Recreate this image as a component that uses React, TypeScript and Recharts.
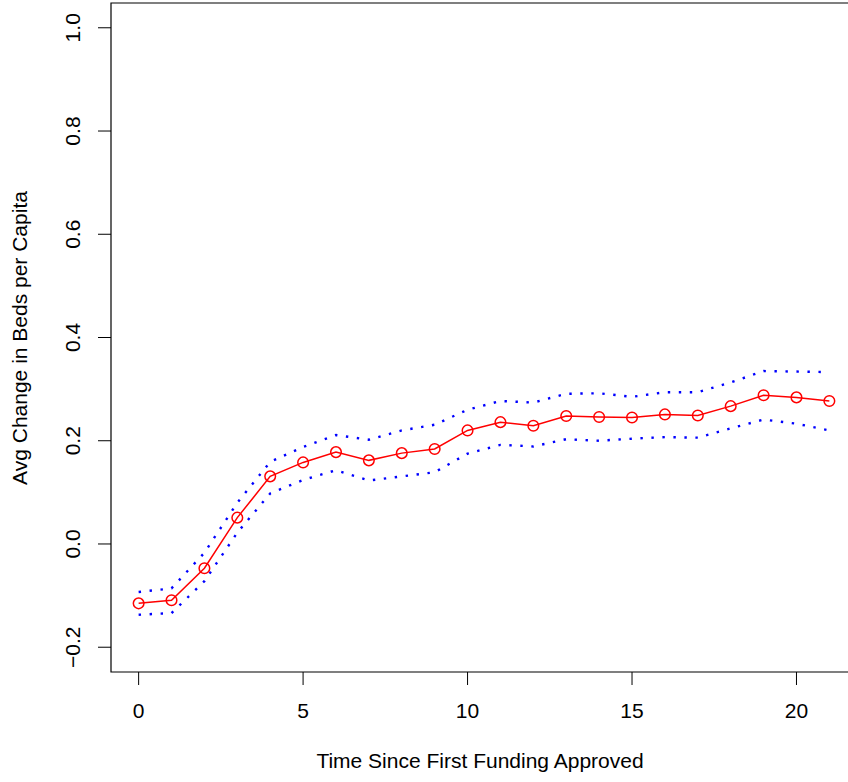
import { ComposedChart, Line, XAxis, YAxis, ReferenceArea } from "recharts";

// time since first funding approved (years)
const TIMES = [0, 1, 2, 3, 4, 5, 6, 7, 8, 9, 10, 11, 12, 13, 14, 15, 16, 17, 18, 19, 20, 21];

// average change in beds per capita
const AVG = [
  -0.115, -0.109, -0.047, 0.051, 0.131, 0.158, 0.178, 0.162, 0.176, 0.184, 0.220,
  0.236, 0.229, 0.248, 0.246, 0.245, 0.251, 0.249, 0.267, 0.288, 0.284, 0.277,
];

// upper / lower confidence bands (blue dotted)
const UPPER = [
  -0.093, -0.086, -0.017, 0.080, 0.159, 0.188, 0.211, 0.202, 0.220, 0.231, 0.260,
  0.277, 0.274, 0.291, 0.292, 0.285, 0.294, 0.294, 0.313, 0.335, 0.334, 0.333,
];
const LOWER = [
  -0.137, -0.134, -0.072, 0.022, 0.098, 0.124, 0.143, 0.123, 0.131, 0.139, 0.175,
  0.192, 0.189, 0.203, 0.200, 0.204, 0.207, 0.206, 0.224, 0.241, 0.233, 0.220,
];

const X_TICKS = [0, 5, 10, 15, 20];
const Y_TICKS = [-0.2, 0, 0.2, 0.4, 0.6, 0.8, 1.0];

// R-style 4% padding around the data/limits
const X_DOMAIN: [number, number] = [-0.84, 21.84];
const Y_DOMAIN: [number, number] = [-0.248, 1.048];

const FONT = "'Liberation Sans', Arial, Helvetica, sans-serif";
const FS = 21;

const data = TIMES.map((t, i) => ({ t, avg: AVG[i], upper: UPPER[i], lower: LOWER[i] }));

const fmtY = (v: number) => v.toFixed(1).replace("-", "\u2212");

const XTick = ({ x, payload }: any) => (
  <text x={x} y={718} textAnchor="middle" fontFamily={FONT} fontSize={FS} fill="#000">
    {payload.value}
  </text>
);

const YTick = ({ y, payload }: any) => (
  <text
    x={80}
    y={y}
    transform={`rotate(-90, 80, ${y})`}
    textAnchor="middle"
    fontFamily={FONT}
    fontSize={FS}
    fill="#000"
  >
    {fmtY(payload.value)}
  </text>
);

const XTitle = () => (
  <text x={480} y={768} textAnchor="middle" fontFamily={FONT} fontSize={FS} fill="#000">
    Time Since First Funding Approved
  </text>
);

const YTitle = () => (
  <text
    x={27}
    y={338}
    transform="rotate(-90, 27, 338)"
    textAnchor="middle"
    fontFamily={FONT}
    fontSize={FS}
    fill="#000"
  >
    Avg Change in Beds per Capita
  </text>
);

export default function App() {
  return (
    <div style={{ position: "absolute", left: 0, top: 0, width: 848, height: 782, overflow: "hidden", background: "#fff" }}>
      <ComposedChart width={900} height={782} data={data} margin={{ top: 3, right: 43, bottom: 0, left: 0 }}>
        <XAxis
          dataKey="t"
          type="number"
          domain={X_DOMAIN}
          ticks={X_TICKS}
          allowDataOverflow
          height={110}
          axisLine={false}
          tickSize={13}
          tickLine={{ stroke: "#000", strokeWidth: 1 }}
          tick={<XTick />}
          label={{ content: <XTitle /> } as any}
        />
        <YAxis
          type="number"
          domain={Y_DOMAIN}
          ticks={Y_TICKS}
          allowDataOverflow
          width={111}
          axisLine={false}
          tickSize={13}
          tickLine={{ stroke: "#000", strokeWidth: 1 }}
          tick={<YTick />}
          label={{ content: <YTitle /> } as any}
        />
        <ReferenceArea
          x1={X_DOMAIN[0]}
          x2={X_DOMAIN[1]}
          y1={Y_DOMAIN[0]}
          y2={Y_DOMAIN[1]}
          fill="none"
          stroke="#000"
          strokeWidth={1.2}
          ifOverflow="visible"
        />
        <Line
          dataKey="upper"
          type="linear"
          stroke="#0000ff"
          strokeWidth={2.4}
          strokeDasharray="2.4 8.6"
          dot={false}
          isAnimationActive={false}
        />
        <Line
          dataKey="lower"
          type="linear"
          stroke="#0000ff"
          strokeWidth={2.4}
          strokeDasharray="2.4 8.6"
          dot={false}
          isAnimationActive={false}
        />
        <Line
          dataKey="avg"
          type="linear"
          stroke="#ff0000"
          strokeWidth={1.5}
          dot={{ r: 5.3, stroke: "#ff0000", strokeWidth: 1.5, fill: "none" }}
          isAnimationActive={false}
        />
      </ComposedChart>
    </div>
  );
}
